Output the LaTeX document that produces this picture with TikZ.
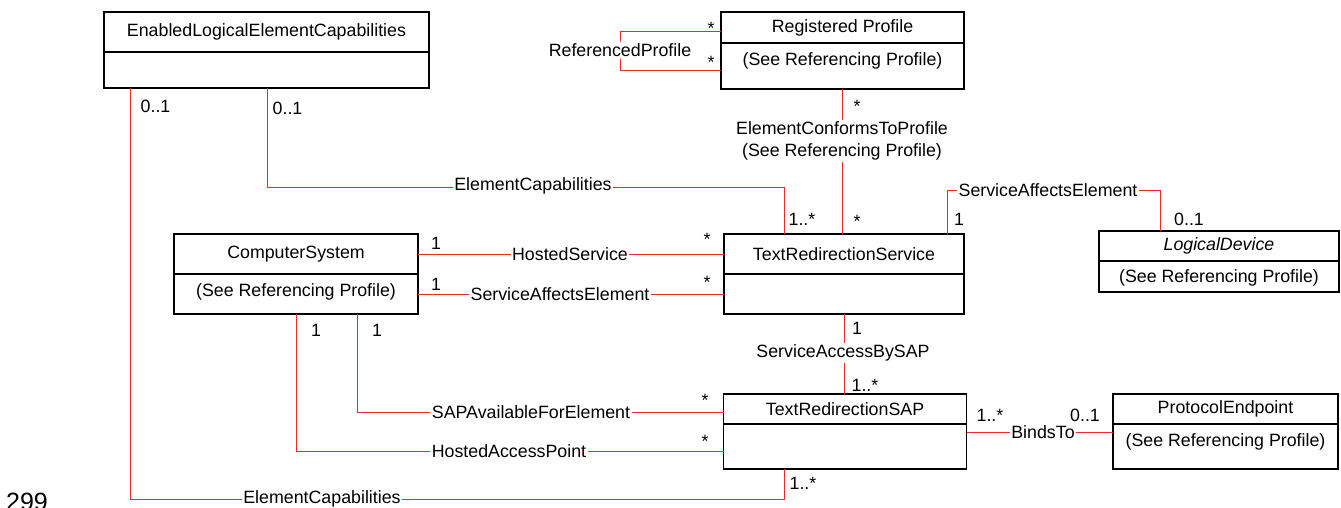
\documentclass[tikz,border=0pt]{standalone}
\usepackage{fontspec}
\setmainfont{Liberation Sans}
\usepackage{xcolor}
\usetikzlibrary{positioning}
\definecolor{assocred}{RGB}{240,40,40}

\tikzset{
	classtitle/.style={draw, fill=white, line width=1.2pt, outer sep=0pt, inner sep=2pt},
	classbody/.style={classtitle},
	bodytext/.style={inner sep=0pt},
	assoc/.style={draw=assocred, line width=1pt},
	assoclabel/.style={fill=white, inner sep=1.5pt, align=center},
	mult/.style={inner sep=0pt}
}

\begin{document}
\begin{tikzpicture}[x=1pt, y=-1pt, font=\fontsize{17.8}{22}\selectfont]
		\useasboundingbox (0,0) rectangle (1341,507);

		% classes
		\node[classtitle, minimum width=325, minimum height=40] (elec) at (266.5,32)
			{EnabledLogicalElementCapabilities};
		\node[classbody, minimum width=325, minimum height=36, below=0pt of elec] (elecb) {};

		\node[classtitle, minimum width=243, minimum height=31] (rp) at (842.5,27.5)
			{Registered Profile};
		\node[classbody, minimum width=243, minimum height=46, below=0pt of rp] (rpb) {};
		\node[bodytext, below=9pt of rpb.north] (rpt) {(See Referencing Profile)};

		\node[classtitle, minimum width=240, minimum height=40] (trs) at (844,254)
			{TextRedirectionService};
		\node[classbody, minimum width=240, minimum height=40, below=0pt of trs] (trsb) {};

		\node[classtitle, minimum width=240, minimum height=30] (ld) at (1219,246)
			{\itshape LogicalDevice};
		\node[classbody, minimum width=240, minimum height=31, below=0pt of ld] (ldb) {};
		\node[bodytext, below=8pt of ldb.north] (ldt) {(See Referencing Profile)};

		\node[classtitle, minimum width=244, minimum height=40] (cs) at (296,254)
			{ComputerSystem};
		\node[classbody, minimum width=244, minimum height=40, below=0pt of cs] (csb) {};
		\node[bodytext, below=9pt of csb.north] (cst) {(See Referencing Profile)};

		\node[classtitle, minimum width=243, minimum height=30] (sap) at (845,409)
			{TextRedirectionSAP};
		\node[classbody, minimum width=243, minimum height=45, below=0pt of sap] (sapb) {};

		\node[classtitle, minimum width=225, minimum height=30] (pe) at (1225.5,409)
			{ProtocolEndpoint};
		\node[classbody, minimum width=225, minimum height=45, below=0pt of pe] (peb) {};
		\node[bodytext, below=9pt of peb.north] (pet) {(See Referencing Profile)};

		% associations
		\draw[assoc] (rp.west |- 0,31) -| (620,50) |- (rpb.west |- 0,70);
		\draw[assoc] (rpb.south) -- (rpb.south |- trs.north);
		\draw[assoc] (267,0 |- elecb.south) |- (784,187) -- (784,0 |- trs.north);
		\draw[assoc] (947,0 |- trs.north) |- (1160,190) -- (1160,0 |- ld.north);
		\draw[assoc] (cs.east) -- (trs.west);
		\draw[assoc] (csb.east) -- (trsb.west);
		\draw[assoc] (trsb.south) -- (trsb.south |- sap.north);
		\draw[assoc] (357,0 |- csb.south) |- (sap.west |- 0,412);
		\draw[assoc] (296,0 |- csb.south) |- (sapb.west |- 0,451);
		\draw[assoc] (130,0 |- elecb.south) |- (784,499) -- (784,0 |- sapb.south);
		\draw[assoc] (sapb.east |- 0,432) -- (peb.west |- 0,432);

		% association names
		\node[assoclabel] (refprof) at (620,50) {ReferencedProfile};
		\node[assoclabel] (conforms) at (842,141)
			{ElementConformsToProfile\\(See Referencing Profile)};
		\node[assoclabel] (capup) at (533,186) {ElementCapabilities};
		\node[assoclabel] (affectsld) at (1048,190) {ServiceAffectsElement};
		\node[assoclabel] (hosted) at (570,254) {HostedService};
		\node[assoclabel] (affectscs) at (560,294) {ServiceAffectsElement};
		\node[assoclabel] (accbysap) at (843,353) {ServiceAccessBySAP};
		\node[assoclabel] (sapavail) at (531,412) {SAPAvailableForElement};
		\node[assoclabel] (hostedap) at (509,451) {HostedAccessPoint};
		\node[assoclabel] (capdown) at (322,499) {ElementCapabilities};
		\node[assoclabel] (binds) at (1043,432) {BindsTo};

		% multiplicities
		\node[mult] (mRefA) at (711,28) {*};
		\node[mult] (mRefB) at (711,62) {*};
		\node[mult] (mConfA) at (857,106) {*};
		\node[mult] (mConfB) at (857,221) {*};
		\node[mult] (mCapUpA) at (287.5,108) {0..1};
		\node[mult] (mCapUpB) at (802,219) {1..*};
		\node[mult] (mAffA) at (959,219) {1};
		\node[mult] (mAffB) at (1189,219) {0..1};
		\node[mult] (mHostA) at (436,243) {1};
		\node[mult] (mHostB) at (707,239) {*};
		\node[mult] (mAffCsA) at (436,284) {1};
		\node[mult] (mAffCsB) at (707,282) {*};
		\node[mult] (mAccA) at (857,328) {1};
		\node[mult] (mAccB) at (865,385) {1..*};
		\node[mult] (mHapA) at (316,330) {1};
		\node[mult] (mAvailA) at (377,330) {1};
		\node[mult] (mAvailB) at (705,400) {*};
		\node[mult] (mHapB) at (705,441) {*};
		\node[mult] (mCapDnA) at (155.5,106) {0..1};
		\node[mult] (mCapDnB) at (803,483) {1..*};
		\node[mult] (mBindA) at (990,415) {1..*};
		\node[mult] (mBindB) at (1085,415) {0..1};

		% page number left over at the margin
		\node[inner sep=0pt, font=\fontsize{25}{30}\selectfont] (pgnum) at (27,502) {299};
	\end{tikzpicture}
\end{document}
